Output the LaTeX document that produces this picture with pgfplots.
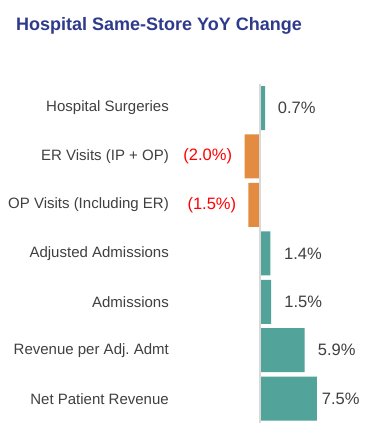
\documentclass[border=0pt]{standalone}
\usepackage{fontspec}
\setmainfont{Liberation Sans}
\usepackage{pgfplots}
\pgfplotsset{compat=1.18}
\definecolor{barteal}{RGB}{82,164,155}
\definecolor{barorange}{RGB}{227,139,65}
\definecolor{titleblue}{RGB}{46,58,140}
\definecolor{txtgray}{RGB}{64,64,64}
\definecolor{axisgray}{RGB}{217,217,217}
\definecolor{negred}{RGB}{255,0,0}
\begin{document}
\begin{tikzpicture}
\useasboundingbox (0,0) rectangle (378pt,441pt);
\fill[white] (0,0) rectangle (378pt,441pt);
\node[anchor=base west, inner sep=0pt, text=titleblue, font=\bfseries\fontsize{18}{21}\selectfont] at (16pt,410pt) {Hospital Same-Store YoY Change};
\begin{axis}[
 at={(172pt,18.1pt)}, anchor=south west, scale only axis,
 width=156.2pt, height=339.1pt,
 xmin=-11.55, xmax=9, ymin=-0.5, ymax=6.5,
 axis line style={draw=none}, major tick length=0pt,
 xtick=\empty, ytick={0,...,6},
 yticklabels={Net Patient Revenue, Revenue per Adj.\ Admt, Admissions, Adjusted Admissions, OP Visits (Including ER), ER Visits (IP + OP), Hospital Surgeries},
 yticklabel style={anchor=east, inner sep=0pt, xshift=-3pt, text=txtgray, font=\fontsize{15}{18}\selectfont},
 clip=false,
]
\addplot[xbar, bar width=44pt, bar shift=0pt, fill=barteal, draw=none] coordinates {(7.5,0) (5.9,1) (1.5,2) (1.4,3) (0.7,6)};
\addplot[xbar, bar width=44pt, bar shift=0pt, fill=barorange, draw=none] coordinates {(-1.5,4) (-2.0,5)};
\draw[axisgray, line width=1.6pt] (axis cs:0,-0.5) -- (axis cs:0,6.5);
\addplot[only marks, mark=none, nodes near coords, point meta=explicit symbolic,
  every node near coord/.append style={anchor=west, inner sep=0pt, text=txtgray, font=\fontsize{16.5}{19}\selectfont}]
  coordinates {(8.14,0) [7.5\%] (7.62,1) [5.9\%] (3.22,2) [1.5\%] (3.18,3) [1.4\%] (2.36,6) [0.7\%]};
\addplot[only marks, mark=none, nodes near coords, point meta=explicit symbolic,
  every node near coord/.append style={anchor=east, inner sep=0pt, text=negred, font=\fontsize{16.5}{19}\selectfont}]
  coordinates {(-3.09,4) [(1.5\%)] (-3.62,5) [(2.0\%)]};
\end{axis}
\end{tikzpicture}
\end{document}
